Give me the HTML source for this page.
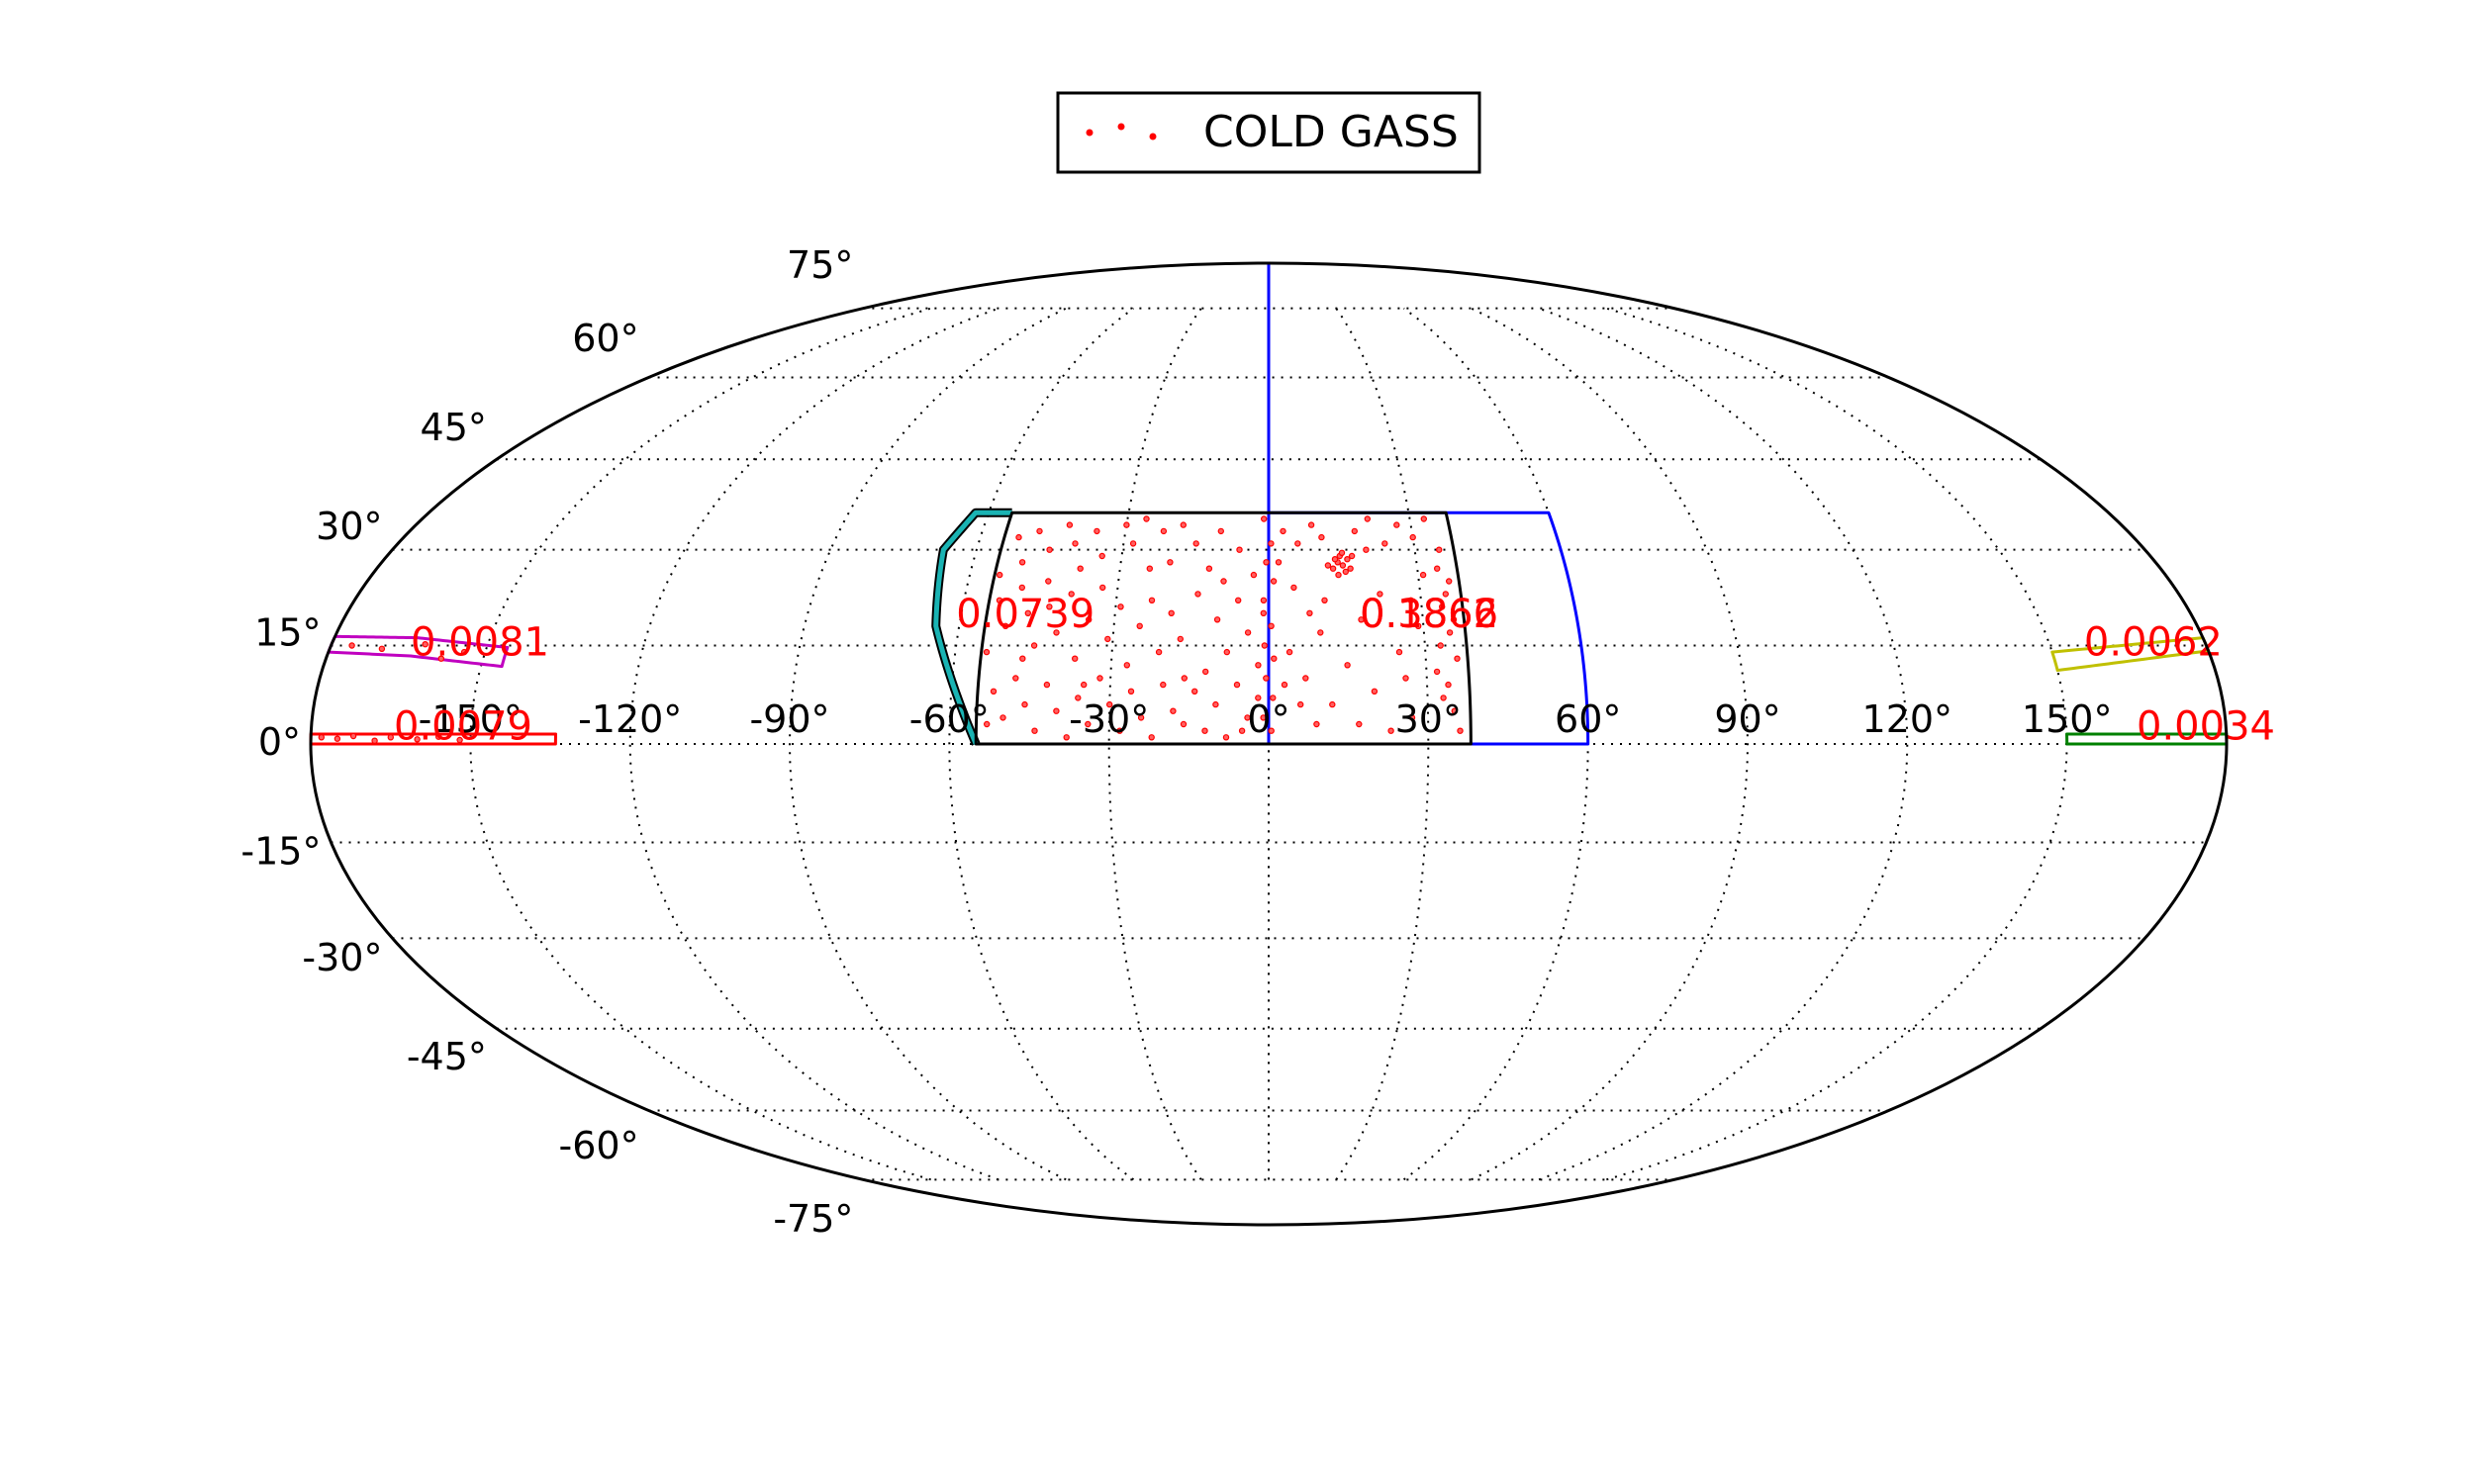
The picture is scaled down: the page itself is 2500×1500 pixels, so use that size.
<!DOCTYPE html>
<html><head><meta charset="utf-8"><style>
html,body{margin:0;padding:0;background:#fff;}
svg{display:block;font-family:"DejaVu Sans","Liberation Sans",sans-serif;}
</style></head><body>
<svg id="chart" width="2500" height="1500" viewBox="0 0 2500 1500" xmlns="http://www.w3.org/2000/svg">
<rect width="2500" height="1500" fill="#fff"/>
<g id="grid"></g>
<g id="regions"></g>
<g id="points"></g>
<g id="labels"></g>
<g id="annot"></g>
<g>
<rect x="1069" y="94" width="426" height="80" fill="#fff" stroke="#000" stroke-width="3"/>
<circle cx="1101" cy="134" r="3" fill="red" stroke="red"/>
<circle cx="1133" cy="128" r="3" fill="red" stroke="red"/>
<circle cx="1165" cy="138" r="3" fill="red" stroke="red"/>
<text x="1216" y="148" font-size="44" fill="#000">COLD GASS</text>
</g>
<ellipse cx="1282" cy="752" rx="968" ry="486" fill="none" stroke="#000" stroke-width="3"/>
</svg>
<script>
const latTicks = [-75,-60,-45,-30,-15,0,15,30,45,60,75];
const lonTicks = [-150,-120,-90,-60,-30,0,30,60,90,120,150];
const blackRegion = [[-55,0],[-55,36],[38,36],[38,0]];
const blueRegion = [[0,0],[0,36],[60,36],[60,0]];
const blueLine = [[0,0],[0,90]];
const cyanRegion = [[-55,0],[-64.5,18],[-66.8,30],[-62.8,36],[-55,36]];
const magentaRegion = [[-180,16.4],[-164,16.2],[-146,14.7],[-146,11.8],[-164,13.4],[-180,14]];
const redRegion = [[-180,0],[-180,1.5],[-134,1.5],[-134,0]];
const yellowRegion = [[150,14],[180,16.2],[180,14.2],[150,11.2]];
const greenRegion = [[150,0],[150,1.5],[180,1.5],[180,0]];
const annotTexts = ["0.0739","0.3866","0.1862","0.0081","0.0079","0.0062","0.0034"];
const annotLon = [-61,17.8,17.8,-165,-164.5,156.8,163.2];
const annotLat = [20,20,20,15.6,2.8,15.6,2.8];
const pointLon = [-52,-50,-48,-45,-44,-42,-40,-38,-36,-34,-30,-28,-26,-22,-20,-18,-15,-12,-10,-6,-3,
-53,-51,-49,-47,-45,-43,-41,-39,-37,-35,-33,-31,-29,-27,-25,-23,-21,-19,-17,-14,-12,-10,-8,-6,-4,-2,-1,
-52,-50,-48,-46,-44,-42,-40,-38,-36,-34,-32,-30,-28,-26,-24,-22,-20,-18,-16,-14,-12,-10,-8,-6,-4,-2,
-54,-54,-53,-47,-35,-24,-16,-9,-5,
-1,0.5,-0.5,1,-1,0.5,-0.8,1,-0.5,0.8,-1,0.5,
13,14,15,16,14.5,15.5,13.5,16.5,15,14,17,12,
3,6,9,11,18,21,24,27,30,33,35,36,34,35,36,34,35,36,33,34,32,35,33,36,
5,8,4,7,10,12,9,15,18,20,22,25,27,29,31,6,3,17,23,26,28,20,11,2,
-178,-175,-172,-168,-165,-160,-156,-152,-176,-170,-162,-158,-154];
const pointLat = [32,28,33,30,25,34,31,27,33,29,34,31,35,33,28,34,31,27,33,30,26,
22,18,24,20,15,21,17,23,13,19,24,16,21,12,18,22,14,20,16,23,11,19,14,22,17,12,20,
8,4,10,6,2,9,5,1,7,3,10,6,2,8,4,1,9,5,3,8,2,6,1,9,4,7,
14,26,3,13,9,27,10,25,2,
35,31,28,25,22,18,15,13,10,7,4,2,
27,28,27.5,28.5,29,26.5,28.5,27,29.5,26,29,27.5,
33,31,34,32,33,35,31,34,32,35,30,25,21,17,13,9,5,2,15,27,11,23,7,19,
24,20,14,10,17,6,3,12,19,8,23,14,4,18,26,6,9,3,2,10,22,30,22,28,
1,0.8,1.2,0.5,1,0.7,1.1,0.6,15,14.5,15.2,13,14];

const CX=1282, CY=752, A=968, B=486, NS="http://www.w3.org/2000/svg";
function theta(lat){
  const phi=lat*Math.PI/180;
  if(Math.abs(lat)>=90) return Math.sign(lat)*Math.PI/2;
  let t=phi;
  for(let i=0;i<50;i++){
    const f=2*t+Math.sin(2*t)-Math.PI*Math.sin(phi);
    const d=2+2*Math.cos(2*t);
    if(Math.abs(d)<1e-9) break;
    t-=f/d;
  }
  return t;
}
function proj(lon,lat){
  const t=theta(lat);
  return [CX + A*(lon/180)*Math.cos(t), CY - B*Math.sin(t)];
}
function mk(tag,attrs,parent){
  const e=document.createElementNS(NS,tag);
  for(const k in attrs) e.setAttribute(k,attrs[k]);
  parent.appendChild(e); return e;
}
function pathFrom(pts,closed){
  let d="";
  for(let i=0;i<pts.length;i++){
    const a=pts[i], b=pts[(i+1)%pts.length];
    if(i===pts.length-1 && !closed) { if(i===0){const p=proj(a[0],a[1]);d+="M"+p[0]+","+p[1];} break; }
    const n=30;
    for(let j=0;j<=n;j++){
      const lon=a[0]+(b[0]-a[0])*j/n, lat=a[1]+(b[1]-a[1])*j/n;
      const p=proj(lon,lat);
      d+=(d===""?"M":"L")+p[0].toFixed(2)+","+p[1].toFixed(2);
    }
  }
  return d+(closed?"Z":"");
}
const grid=document.getElementById('grid');
latTicks.forEach(lat=>{
  const pts=[]; for(let lon=-180;lon<=180;lon+=5){const p=proj(lon,lat);pts.push(p[0].toFixed(2)+","+p[1].toFixed(2));}
  const e=mk('polyline',{points:pts.join(" "),fill:"none",stroke:"#000","stroke-width":2,"stroke-dasharray":"2,7"},grid);
  
  
});
lonTicks.concat([0]).forEach(lon=>{
  const pts=[]; for(let lat=-75;lat<=75;lat+=2.5){const p=proj(lon,lat);pts.push(p[0].toFixed(2)+","+p[1].toFixed(2));}
  const e=mk('polyline',{points:pts.join(" "),fill:"none",stroke:"#000","stroke-width":2,"stroke-dasharray":"2,7"},grid);
  
  
});
const reg=document.getElementById('regions');
function region(pts,color,w,name,closed){
  const e=mk('path',{d:pathFrom(pts,closed),fill:"none",stroke:color,"stroke-width":w,"stroke-linejoin":"round"},reg);
  
  
}
region(blueRegion,"#0000ff",3,"blue-region",true);
region(blueLine,"#0000ff",3,"blue-meridian-line",false);
region(cyanRegion.concat([[-55,36]]),"#000",9,"cyan-region-outline",false);
region(cyanRegion,"#1ab3b3",5,"cyan-region",false);
region(blackRegion,"#000",3,"black-region",true);
region(magentaRegion,"#c000c0",3,"magenta-region",true);
region(redRegion,"#ff0000",3,"red-region",true);
region(yellowRegion,"#c0c000",3,"yellow-region",true);
region(greenRegion,"#008000",3,"green-region",true);

const pg=document.getElementById('points');
for(let i=0;i<pointLon.length;i++){
  const p=proj(pointLon[i],pointLat[i]);
  const c=mk('circle',{cx:p[0].toFixed(1),cy:p[1].toFixed(1),r:2.6,fill:"#ff6060",stroke:"red","stroke-width":1.2},pg);
  
  
}
const lg=document.getElementById('labels');
latTicks.forEach(lat=>{
  const t=theta(lat);
  const x=CX - A*Math.cos(t) - 10;
  const y=CY - B*Math.sin(t) - 3 - 43*Math.sin(lat*Math.PI/180) + 14;
  const e=mk('text',{x:x.toFixed(1),y:y.toFixed(1),"text-anchor":"end","font-size":38,fill:"#000"},lg);
  e.textContent=lat+"°";
  
  
});
lonTicks.forEach(lon=>{
  const p=proj(lon,0);
  const e=mk('text',{x:p[0].toFixed(1),y:(p[1]-12).toFixed(1),"text-anchor":"middle","font-size":38,fill:"#000"},lg);
  e.textContent=lon+"°";
  
  
});
const ag=document.getElementById('annot');
for(let i=0;i<annotTexts.length;i++){
  const p=proj(annotLon[i],annotLat[i]);
  const e=mk('text',{x:p[0].toFixed(1),y:(p[1]+14).toFixed(1),"font-size":40,fill:"red"},ag);
  e.textContent=annotTexts[i];
  
  
}
</script>
</body></html>
